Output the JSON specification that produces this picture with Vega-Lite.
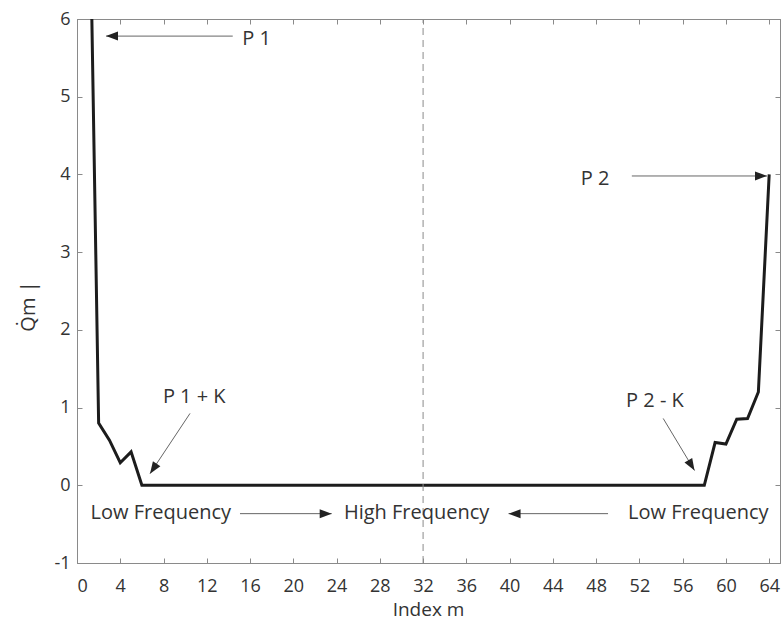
{
  "$schema": "https://vega.github.io/schema/vega-lite/v6.json",
  "width": 703,
  "height": 544,
  "autosize": {"type": "none"},
  "padding": {"left": 77, "top": 19, "right": 3, "bottom": 58},
  "background": "white",
  "config": {
    "view": {"stroke": "#8a8a8a", "strokeWidth": 1},
    "font": "Open Sans",
    "axis": {
      "grid": false,
      "domainColor": "#8a8a8a",
      "tickColor": "#8a8a8a",
      "tickSize": -5,
      "labelColor": "#333333",
      "labelFont": "Open Sans",
      "labelFontSize": 18,
      "titleColor": "#333333",
      "titleFont": "Open Sans",
      "titleFontSize": 19,
      "titleFontWeight": "normal"
    }
  },
  "layer": [
    {
      "data": {"values": [
        {"m": 1, "q": 9.1}, {"m": 2, "q": 0.8}, {"m": 3, "q": 0.58}, {"m": 4, "q": 0.29},
        {"m": 5, "q": 0.43}, {"m": 6, "q": 0}, {"m": 58, "q": 0}, {"m": 59, "q": 0.55},
        {"m": 60, "q": 0.53}, {"m": 61, "q": 0.85}, {"m": 62, "q": 0.86}, {"m": 63, "q": 1.2},
        {"m": 64, "q": 4.0}
      ]},
      "mark": {"type": "line", "color": "#1c1c1c", "strokeWidth": 3, "clip": true},
      "encoding": {
        "x": {"field": "m", "type": "quantitative",
          "scale": {"domain": [0, 65], "nice": false, "zero": false},
          "axis": {"orient": "bottom", "values": [0,4,8,12,16,20,24,28,32,36,40,44,48,52,56,60,64], "labelPadding": 19, "title": "Index m", "titleX": 351, "titleY": 46, "titleAlign": "center", "titleBaseline": "middle"}},
        "y": {"field": "q", "type": "quantitative",
          "scale": {"domain": [-1, 6], "nice": false, "zero": false},
          "axis": {"orient": "left", "values": [-1,0,1,2,3,4,5,6], "labelExpr": "toString(datum.value)", "labelPadding": 12, "title": "Q̇m |", "titleFontSize": 20, "titleX": -49, "titleY": 287, "titleAngle": -90, "titleAlign": "center", "titleBaseline": "middle"}}
      }
    },
    {
      "data": {"values": [{"m": 32, "q": -1, "q2": 6}]},
      "mark": {"type": "rule", "color": "#8a8a8a", "strokeWidth": 1, "strokeDash": [7, 5]},
      "encoding": {
        "x": {"field": "m", "type": "quantitative",
          "axis": {"orient": "top", "values": [0,4,8,12,16,20,24,28,32,36,40,44,48,52,56,60,64], "labels": false, "title": null}},
        "y": {"field": "q", "type": "quantitative",
          "axis": {"orient": "right", "values": [-1,0,1,2,3,4,5,6], "labels": false, "title": null}},
        "y2": {"field": "q2"}
      }
    },
    {
      "data": {"values": [
        {"m": 14.4, "q": 5.78, "m2": 2.68, "q2": 5.78},
        {"m": 51.3, "q": 3.98, "m2": 63.8, "q2": 3.98},
        {"m": 10.45, "q": 0.925, "m2": 6.75, "q2": 0.15},
        {"m": 54.2, "q": 0.86, "m2": 57.1, "q2": 0.19},
        {"m": 15.07, "q": -0.365, "m2": 23.55, "q2": -0.365},
        {"m": 49.1, "q": -0.365, "m2": 39.9, "q2": -0.365}
      ]},
      "mark": {"type": "rule", "color": "#666666", "strokeWidth": 1},
      "encoding": {
        "x": {"field": "m", "type": "quantitative", "axis": null},
        "y": {"field": "q", "type": "quantitative", "axis": null},
        "x2": {"field": "m2"},
        "y2": {"field": "q2"}
      }
    },
    {
      "data": {"values": [
        {"m": 2.68, "q": 5.78, "ang": 270},
        {"m": 63.8, "q": 3.98, "ang": 90},
        {"m": 6.75, "q": 0.15, "ang": 213.7},
        {"m": 57.1, "q": 0.19, "ang": 148.8},
        {"m": 23.55, "q": -0.365, "ang": 90},
        {"m": 39.9, "q": -0.365, "ang": 270}
      ]},
      "mark": {"type": "point", "shape": "M0,0L0.75,2L-0.75,2Z", "filled": true, "color": "#222222", "size": 144, "opacity": 1},
      "encoding": {
        "x": {"field": "m", "type": "quantitative", "axis": null},
        "y": {"field": "q", "type": "quantitative", "axis": null},
        "angle": {"field": "ang", "type": "quantitative", "scale": null}
      }
    },
    {
      "data": {"values": [
        {"m": 16.6, "q": 5.74, "label": "P 1"},
        {"m": 47.9, "q": 3.94, "label": "P 2"},
        {"m": 10.84, "q": 1.14, "label": "P 1 + K"},
        {"m": 53.44, "q": 1.09, "label": "P 2 - K"},
        {"m": 7.75, "q": -0.36, "label": "Low Frequency"},
        {"m": 31.4, "q": -0.36, "label": "High Frequency"},
        {"m": 57.45, "q": -0.36, "label": "Low Frequency"}
      ]},
      "mark": {"type": "text", "fontSize": 20, "color": "#333333", "align": "center", "baseline": "middle", "font": "Open Sans"},
      "encoding": {
        "x": {"field": "m", "type": "quantitative", "axis": null},
        "y": {"field": "q", "type": "quantitative", "axis": null},
        "text": {"field": "label"}
      }
    }
  ],
  "resolve": {"axis": {"x": "independent", "y": "independent"}}
}
